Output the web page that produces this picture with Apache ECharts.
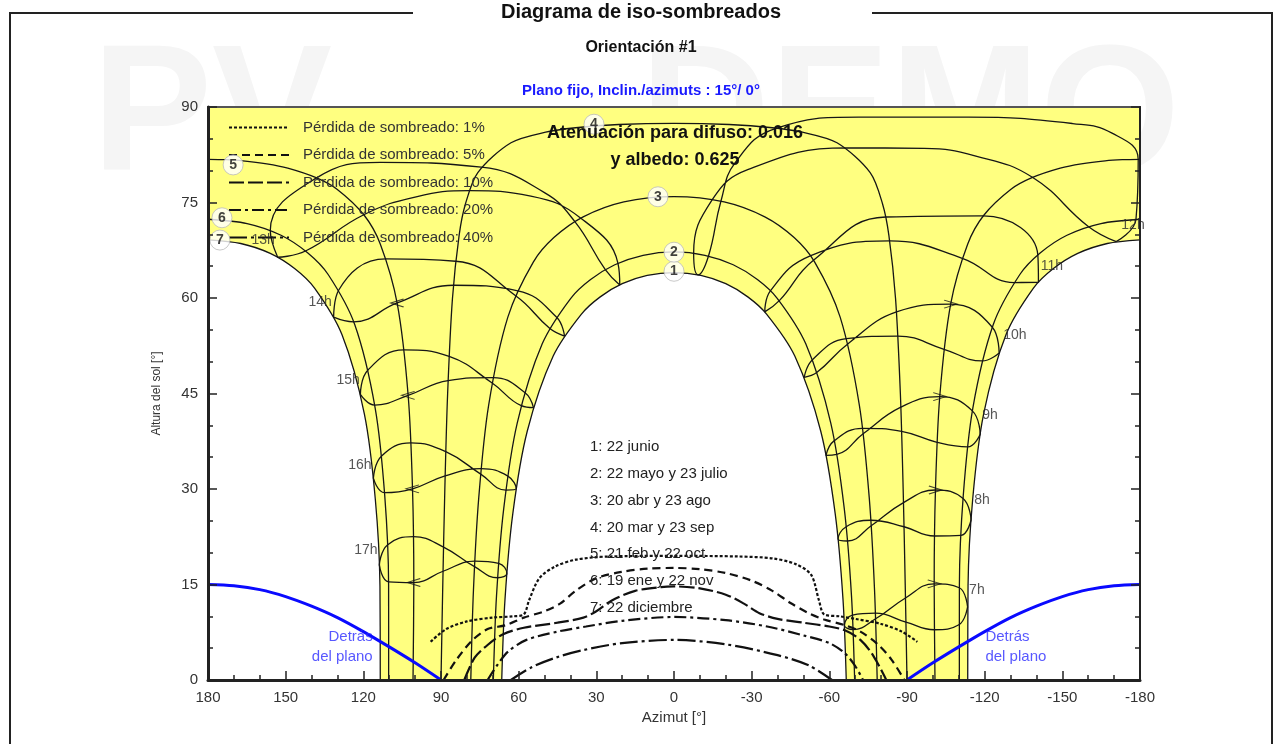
<!DOCTYPE html>
<html lang="es">
<head>
<meta charset="utf-8"/>
<title>Diagrama de iso-sombreados</title>
<script src="https://cdn.jsdelivr.net/npm/echarts@6.0.0/dist/echarts.min.js"></script>
<style>
    html, body { margin: 0; padding: 0; background: #fff; }
    #main { width: 1280px; height: 744px; }
</style>
</head>
<body>
<div id="main"></div>
<script>
    // sun paths, afternoon half [azimut, altura] (morning half is the mirror)
    var path1 = [[0, 64.0], [10.35, 63.55], [20.0, 62.25], [28.5, 60.18], [35.75, 57.48], [46.66, 50.89], [56.69, 39.07], [62.26, 26.14], [65.28, 12.67], [66.54, 0]];
    var path2 = [[0, 67.25], [11.94, 66.71], [22.87, 65.22], [32.21, 62.9], [39.87, 59.95], [50.9, 52.8], [60.56, 40.36], [65.76, 26.96], [68.57, 13.14], [69.78, 0]];
    var path3 = [[0, 75.93], [19.37, 75.1], [35.08, 72.75], [46.4, 69.49], [54.35, 65.64], [64.18, 57.0], [71.62, 43.11], [75.4, 28.72], [77.46, 14.15], [78.49, 0]];
    var path4 = [[0, 87.44], [21.34, 87.25], [38.0, 86.74], [49.56, 86.05], [62.96, 84.38], [75.78, 79.7], [80.54, 74.8], [83.0, 69.84], [85.58, 59.9], [87.44, 44.95], [88.52, 29.97], [89.31, 14.99], [90, 0]];
    var path5 = [[180, 81.77], [173.17, 81.72], [166.54, 81.55], [157.31, 81.08], [149.18, 80.4], [138.26, 78.9], [130.17, 77.08], [119.67, 73.0], [113.46, 68.48], [106.9, 59.1], [102.67, 44.61], [101.0, 29.94], [100.5, 15.21], [100.81, 0]];
    var path6 = [[180, 72.37], [164.91, 71.7], [151.79, 69.86], [141.42, 67.07], [133.59, 63.69], [123.33, 55.84], [115.43, 42.72], [111.73, 28.96], [110.24, 14.96], [110.22, 0]];
    var path7 = [[180, 69.13], [167.35, 68.56], [155.95, 67.0], [146.43, 64.58], [138.84, 61.54], [128.27, 54.25], [119.59, 41.75], [115.38, 28.43], [113.58, 14.77], [113.46, 0]];

    // hour lines (one loop over the year, dic -> jun -> dic)
    var hour7 = [[-113.4, 11.48], [-110.05, 8.67], [-100.55, 7.89], [-89.59, 9.09], [-77.8, 10.49], [-68.95, 10.2], [-65.83, 8.61], [-69.19, 7.92], [-77.87, 9.61], [-89.41, 12.89], [-100.5, 15.11], [-110.21, 14.49], [-113.4, 11.48]];
    var hour8 = [[-114.77, 25.17], [-110.86, 22.72], [-100.64, 22.62], [-88.86, 24.07], [-76.03, 25.09], [-66.51, 24.08], [-63.37, 22.16], [-67.03, 21.83], [-76.17, 24.22], [-88.65, 27.87], [-100.98, 29.84], [-111.66, 28.49], [-114.77, 25.17]];
    var hour9 = [[-118.28, 38.6], [-113.42, 36.62], [-101.64, 37.34], [-87.92, 39.06], [-72.8, 39.53], [-61.92, 37.6], [-58.7, 35.29], [-62.87, 35.43], [-73.05, 38.67], [-87.62, 42.85], [-102.65, 44.52], [-115.24, 42.27], [-118.28, 38.6]];
    var hour10 = [[-125.59, 51.37], [-119.04, 50.11], [-104.3, 51.95], [-86.47, 54.02], [-66.6, 53.62], [-53.48, 50.31], [-50.29, 47.54], [-55.24, 48.33], [-67.11, 52.79], [-85.93, 57.81], [-106.85, 59.04], [-122.96, 55.41], [-125.59, 51.37]];
    var hour11 = [[-140.77, 62.45], [-131.42, 62.43], [-111.34, 66.24], [-83.33, 68.96], [-52.61, 66.63], [-37.22, 61.11], [-35.05, 57.82], [-40.68, 59.58], [-53.88, 65.93], [-81.74, 72.72], [-119.51, 72.9], [-140.53, 66.77], [-140.77, 62.45]];
    var hour12 = [[-170.82, 68.85], [-160.15, 71.19], [-138.44, 78.96], [-116.6, 82.3], [-96.7, 83.5], [-66.64, 83.57], [-28.7, 80.2], [-14.78, 75.44], [-7.59, 67.05], [-9.28, 63.63], [-13.33, 66.6], [-18.12, 75.2], [-23.7, 81.3], [-39.37, 86.66], [-71.4, 88.4], [-113.7, 88.4], [-154, 87.4], [-169.2, 85.9], [-179.31, 81.76], [-178.45, 72.37], [-170.82, 68.85]];
    var hour13 = [[153.08, 66.4], [155.94, 70.59], [138.06, 78.87], [113.45, 81.3], [74.42, 80.54], [50.2, 76.6], [38.29, 72.0], [26.53, 64.46], [20.95, 62.05], [21.64, 65.45], [36.0, 72.54], [55.3, 76.0], [78.98, 76.86], [99.6, 75.9], [119.83, 73.07], [142.33, 67.38], [153.08, 66.4]];
    var hour14 = [[131.48, 57.0], [129.54, 61.22], [111.27, 66.14], [84.29, 65.77], [61.17, 60.35], [47.94, 55.2], [42.31, 54.03], [45.33, 56.98], [60.35, 61.13], [85.18, 62.0], [106.94, 59.22], [123.73, 56.26], [131.48, 57.0]];
    var hour15 = [[121.14, 44.85], [118.21, 48.69], [104.28, 51.85], [86.85, 50.82], [70.24, 46.64], [59.0, 43.09], [54.28, 42.77], [57.64, 45.16], [69.86, 47.5], [87.25, 47.03], [102.69, 44.71], [115.6, 43.17], [121.14, 44.85]];
    var hour16 = [[116.12, 31.68], [113.04, 35.15], [101.63, 37.24], [88.15, 35.86], [74.66, 32.34], [64.91, 29.83], [60.92, 30.07], [64.17, 32.03], [74.47, 33.2], [88.4, 32.07], [101.0, 30.03], [111.82, 29.42], [116.12, 31.68]];
    var hour17 = [[113.85, 18.07], [110.7, 21.22], [100.63, 22.53], [89.02, 20.88], [77.05, 17.8], [68.12, 16.06], [64.58, 16.73], [67.73, 18.33], [76.95, 18.68], [89.21, 17.08], [100.5, 15.31], [110.23, 15.42], [113.85, 18.07]];

    // iso-shading lines
    var iso1 = [[94, 6.0], [88, 8.0], [80, 9.2], [70, 9.8], [62, 10.0], [58, 10.3], [56, 12.5], [52, 16.0], [46, 17.8], [38, 18.9], [25, 19.4], [0, 19.5], [-25, 19.4], [-38, 19.1], [-47, 18.2], [-53, 16.5], [-56, 12.5], [-58, 10.3], [-64, 10.0], [-70, 9.6], [-80, 8.8], [-88, 7.6], [-94, 6.0]];
    var iso5 = [[89, 0], [84, 3.2], [78, 6.2], [72, 8.0], [65, 8.6], [58, 9.8], [50, 10.8], [44, 12.0], [38, 14.0], [30, 16.0], [20, 17.0], [10, 17.5], [0, 17.6], [-10, 17.4], [-20, 16.8], [-30, 15.6], [-38, 14.0], [-45, 12.1], [-52, 10.5], [-58, 9.5], [-66, 8.6], [-72, 7.6], [-79, 5.5], [-84, 3.2], [-89, 0]];
    var iso10 = [[81, 0], [77, 3.5], [72, 5.5], [66, 7.2], [58, 8.2], [45, 9.0], [35, 9.8], [30, 10.8], [24, 12.5], [15, 14.0], [5, 14.6], [0, 14.7], [-10, 14.4], [-20, 13.4], [-27, 12.0], [-33, 10.5], [-40, 9.6], [-50, 9.0], [-60, 8.4], [-66, 7.8], [-72, 6.3], [-77, 3.8], [-82, 0]];
    var iso20 = [[72, 0], [68, 2.5], [64, 4.5], [57, 6.3], [45, 7.6], [34, 8.4], [20, 9.3], [0, 9.9], [-20, 9.4], [-36, 8.4], [-50, 7.0], [-60, 5.8], [-66, 4.2], [-70, 2.2], [-73, 0]];
    var iso40 = [[63, 0], [55, 2.0], [45, 3.6], [35, 4.7], [20, 5.8], [0, 6.3], [-20, 5.6], [-40, 3.9], [-52, 2.3], [-61, 0]];
    var isoNames = ['Pérdida de sombreado: 1%', 'Pérdida de sombreado: 5%', 'Pérdida de sombreado: 10%',
        'Pérdida de sombreado: 20%', 'Pérdida de sombreado: 40%'];

    // behind the plane limit (west half, east is the mirror)
    var behindWest = [[180, 15], [170, 14.8], [160, 14.2], [150, 13.1], [140, 11.6], [130, 9.8], [120, 7.6], [110, 5.2], [100, 2.7], [90, 0]];

    var pathLabels = [['1', 0, 64.2], ['2', 0, 67.2], ['3', 6.2, 75.9], ['4', 30.9, 87.3], ['5', 170.3, 80.9], ['6', 174.6, 72.6], ['7', 175.4, 69.1]];
    var hourLabels = [['13h', 158.7, 69.1], ['14h', 136.7, 59.4], ['15h', 125.9, 47.1], ['16h', 121.3, 33.8], ['17h', 119.0, 20.4],
        ['7h', -117.0, 14.1], ['8h', -119.0, 28.3], ['9h', -122.1, 41.6], ['10h', -131.7, 54.2], ['11h', -146.0, 65.0], ['12h', -177.3, 71.5]];
    var dateNames = ['1: 22 junio', '2: 22 mayo y 23 julio', '3: 20 abr y 23 ago', '4: 20 mar y 23 sep',
        '5: 21 feb y 22 oct', '6: 19 ene y 22 nov', '7: 22 diciembre'];

    var FONT = '"Liberation Sans", Arial, sans-serif';

    function mirror(p) { return [-p[0], p[1]]; }
    // noon at azimut 0: west half reversed + east half
    function fullArch(half) {
        return half.slice().reverse().concat(half.slice(1).map(mirror));
    }

    var series = [];

    // white zones outside the sun paths
    function whiteArea(data) {
        series.push({
            type: 'line', data: data, smooth: 0.3, symbol: 'none', silent: true, z: 1,
            lineStyle: {width: 0}, areaStyle: {color: '#ffffff', opacity: 1}
        });
    }
    whiteArea(fullArch(path1));
    whiteArea(path7);
    whiteArea(path7.map(mirror));

    function thinLine(data, smooth) {
        series.push({
            type: 'line', data: data, smooth: smooth, symbol: 'none', silent: true, z: 2,
            lineStyle: {color: '#161616', width: 1.3}
        });
    }
    [path1, path2, path3, path4].forEach(function (p) { thinLine(fullArch(p), 0.3); });
    [path5, path6, path7].forEach(function (p) { thinLine(p, 0.3); thinLine(p.map(mirror), 0.3); });
    var hours = [hour7, hour8, hour9, hour10, hour11, hour12, hour13, hour14, hour15, hour16, hour17];
    hours.forEach(function (h) { thinLine(h, 0.45); });

    // direction arrows on the hour loops, at the october point
    var arrowPts = [hour7, hour8, hour9, hour10, hour14, hour15, hour16, hour17].map(function (h) {
        var p = h[10];
        return {value: p, symbolRotate: p[0] < 0 ? 0 : 180};
    });
    series.push({
        type: 'scatter', silent: true, z: 3, data: arrowPts,
        symbol: 'path://M0,0L12,5L0,10', symbolSize: [13, 8],
        itemStyle: {color: 'rgba(0,0,0,0)', borderColor: '#161616', borderWidth: 1.2}
    });

    // behind the plane (blue)
    [behindWest, behindWest.map(mirror)].forEach(function (b) {
        series.push({
            type: 'line', data: b, smooth: 0.3, symbol: 'none', silent: true, z: 3,
            lineStyle: {color: '#0a0aff', width: 3}
        });
    });

    var isoData = [iso1, iso5, iso10, iso20, iso40];
    var isoDash = [[3, 2], [8, 5], [15, 4], [12, 4, 3, 4], [18, 4, 3, 4]];
    isoData.forEach(function (d, i) {
        series.push({
            name: isoNames[i], type: 'line', data: d, smooth: 0.3, symbol: 'none', silent: true, z: 4,
            color: '#111',
            lineStyle: {color: '#111', width: 2.2, type: isoDash[i]}
        });
    });

    // labels
    series.push({
        type: 'scatter', silent: true, z: 6, symbolSize: 20,
        data: pathLabels.map(function (c) { return {name: c[0], value: [c[1], c[2]]}; }),
        itemStyle: {color: '#fff', borderColor: '#bbb', borderWidth: 1},
        label: {show: true, position: 'inside', formatter: '{b}', fontFamily: FONT, fontWeight: 'bold', fontSize: 14, color: '#111'}
    });
    series.push({
        type: 'scatter', silent: true, z: 5, symbolSize: 1,
        data: hourLabels.map(function (c) { return {name: c[0], value: [c[1], c[2]]}; }),
        itemStyle: {color: 'rgba(0,0,0,0)'},
        label: {show: true, position: 'inside', formatter: '{b}', fontFamily: FONT, fontSize: 14, color: '#2a2a2a'}
    });
    series.push({
        type: 'scatter', silent: true, z: 5, symbolSize: 1,
        data: [
            {value: [116.2, 5.2], label: {position: 'left', align: 'right'}},
            {value: [-120.1, 5.2], label: {position: 'right', align: 'left'}}
        ],
        itemStyle: {color: 'rgba(0,0,0,0)'},
        label: {show: true, distance: 0, formatter: 'Detrás\ndel plano', fontFamily: FONT, fontSize: 15, lineHeight: 20, color: '#2d2dff'}
    });

    var tickStyle = {color: '#222', width: 1.5};
    var chart = echarts.init(document.getElementById('main'));
    chart.setOption({
        animation: false,
        textStyle: {fontFamily: FONT},
        grid: {left: 208, right: 140, top: 107, bottom: 64, show: true, backgroundColor: '#ffff80', borderColor: '#555', borderWidth: 2},
        legend: {
            data: isoNames, orient: 'vertical', left: 228, top: 120, padding: 0,
            itemWidth: 60, itemHeight: 14, itemGap: 12.5, selectedMode: false,
            itemStyle: {color: 'rgba(0,0,0,0)', borderWidth: 0, opacity: 0},
            textStyle: {fontSize: 15, color: '#333', padding: [0, 0, 0, 9]}
        },
        xAxis: {
            type: 'value', min: -180, max: 180, interval: 30, inverse: true, z: 10,
            name: 'Azimut [°]', nameLocation: 'middle', nameGap: 30,
            nameTextStyle: {fontSize: 15, color: '#333'},
            axisLine: {onZero: false, lineStyle: {color: '#222', width: 3}},
            axisTick: {inside: true, length: 9, lineStyle: tickStyle},
            minorTick: {show: true, splitNumber: 3, length: 5, lineStyle: tickStyle},
            axisLabel: {fontSize: 15, color: '#333', margin: 10},
            splitLine: {show: false}
        },
        yAxis: [{
            type: 'value', min: 0, max: 90, interval: 15, z: 10,
            name: 'Altura del sol [°]', nameLocation: 'middle', nameGap: 45,
            nameTextStyle: {fontSize: 12, color: '#333'},
            axisLine: {onZero: false, lineStyle: {color: '#222', width: 3}},
            axisTick: {inside: true, length: 9, lineStyle: tickStyle},
            minorTick: {show: true, splitNumber: 3, length: 5, lineStyle: tickStyle},
            axisLabel: {fontSize: 15, color: '#333', margin: 10},
            splitLine: {show: false}
        }, {
            type: 'value', min: 0, max: 90, interval: 15, z: 10, position: 'right',
            axisLine: {show: true, onZero: false, lineStyle: {color: '#222', width: 2}},
            axisTick: {inside: true, length: 9, lineStyle: tickStyle},
            minorTick: {show: true, splitNumber: 3, length: 5, lineStyle: tickStyle},
            axisLabel: {show: false},
            splitLine: {show: false}
        }],
        graphic: [
            {type: 'text', z: -1, left: 92, top: 30, style: {text: 'PV', font: 'bold 180px ' + FONT, fill: '#f5f5f5'}},
            {type: 'text', z: -1, left: 640, top: 30, style: {text: 'DEMO', font: 'bold 180px ' + FONT, fill: '#f5f5f5'}},
            {type: 'polyline', z: 10, shape: {points: [[10, 744], [10, 13], [413, 13]]}, style: {stroke: '#222', lineWidth: 2, fill: null}},
            {type: 'polyline', z: 10, shape: {points: [[872, 13], [1272, 13], [1272, 744]]}, style: {stroke: '#222', lineWidth: 2, fill: null}},
            {type: 'text', z: 10, x: 641, y: 12, style: {text: 'Diagrama de iso-sombreados', font: 'bold 20px ' + FONT, fill: '#111', align: 'center', verticalAlign: 'middle'}},
            {type: 'text', z: 10, x: 641, y: 48, style: {text: 'Orientación #1', font: 'bold 16px ' + FONT, fill: '#111', align: 'center', verticalAlign: 'middle'}},
            {type: 'text', z: 10, x: 641, y: 91, style: {text: 'Plano fijo, Inclin./azimuts : 15°/ 0°', font: 'bold 15px ' + FONT, fill: '#1a1aff', align: 'center', verticalAlign: 'middle'}},
            {type: 'text', z: 10, x: 675, y: 133, style: {text: 'Atenuación para difuso: 0.016', font: 'bold 18px ' + FONT, fill: '#111', align: 'center', verticalAlign: 'middle'}},
            {type: 'text', z: 10, x: 675, y: 160, style: {text: 'y albedo: 0.625', font: 'bold 18px ' + FONT, fill: '#111', align: 'center', verticalAlign: 'middle'}},
            {type: 'text', z: 10, x: 590, y: 434, style: {text: dateNames.join('\n'), font: '15px ' + FONT, fill: '#222', lineHeight: 26.7}}
        ],
        series: series
    });
</script>
</body>
</html>
